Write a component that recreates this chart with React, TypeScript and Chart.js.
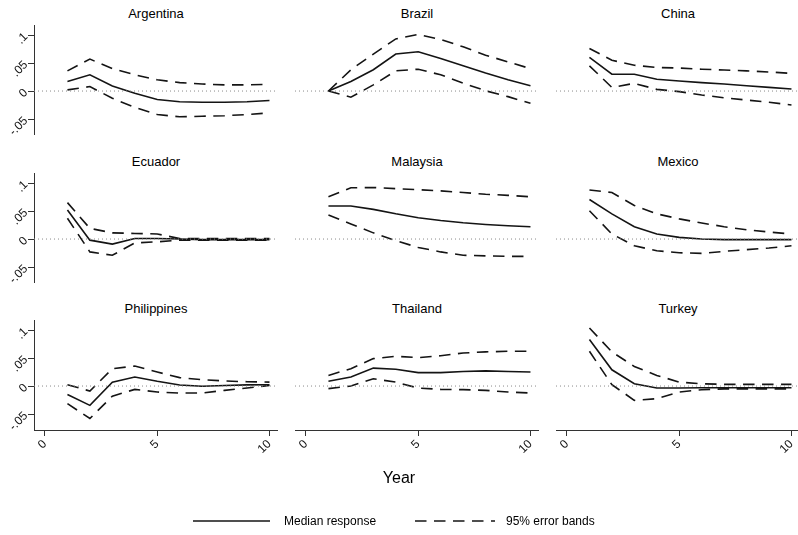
import React, { useEffect, useRef } from "react";
import { Chart, registerables } from "chart.js";

Chart.register(...registerables);

// ---------- data ----------
const years = [1, 2, 3, 4, 5, 6, 7, 8, 9, 10];

const xTicks = [0, 5, 10];
const xTickLabels = ["0", "5", "10"];
const yTicks = [-0.05, 0, 0.05, 0.1];
const yTickLabels = ["-.05", "0", ".05", ".1"];

const countries = [
  "Argentina", "Brazil", "China",
  "Ecuador", "Malaysia", "Mexico",
  "Philippines", "Thailand", "Turkey",
];

const argentinaMedian = [0.017, 0.029, 0.009, -0.004, -0.015, -0.019, -0.02, -0.02, -0.019, -0.017];
const argentinaUpper = [0.036, 0.057, 0.04, 0.029, 0.02, 0.015, 0.0125, 0.011, 0.011, 0.012];
const argentinaLower = [0.002, 0.008, -0.013, -0.029, -0.042, -0.046, -0.045, -0.044, -0.042, -0.039];

const brazilMedian = [0.0, 0.017, 0.038, 0.066, 0.07, 0.058, 0.045, 0.032, 0.02, 0.0095];
const brazilUpper = [0.0, 0.038, 0.066, 0.093, 0.101, 0.092, 0.079, 0.064, 0.052, 0.04];
const brazilLower = [0.0, -0.011, 0.011, 0.036, 0.039, 0.029, 0.014, 0.0005, -0.01, -0.022];

const chinaMedian = [0.06, 0.03, 0.03, 0.021, 0.018, 0.015, 0.0125, 0.0095, 0.0065, 0.0036];
const chinaUpper = [0.076, 0.055, 0.046, 0.042, 0.041, 0.039, 0.0375, 0.036, 0.034, 0.0315];
const chinaLower = [0.045, 0.0065, 0.0137, 0.003, -0.001, -0.007, -0.012, -0.016, -0.02, -0.025];

const ecuadorMedian = [0.052, -0.002, -0.009, 0.001, 0.001, 0.0, -0.001, -0.001, -0.001, -0.001];
const ecuadorUpper = [0.065, 0.019, 0.011, 0.01, 0.009, 0.001, 0.001, 0.001, 0.001, 0.001];
const ecuadorLower = [0.037, -0.023, -0.029, -0.007, -0.005, -0.002, -0.002, -0.002, -0.002, -0.002];

const malaysiaMedian = [0.059, 0.059, 0.053, 0.045, 0.038, 0.033, 0.029, 0.026, 0.0237, 0.022];
const malaysiaUpper = [0.0755, 0.0915, 0.092, 0.09, 0.088, 0.086, 0.083, 0.08, 0.078, 0.0755];
const malaysiaLower = [0.043, 0.027, 0.011, -0.003, -0.015, -0.023, -0.029, -0.03, -0.031, -0.031];

const mexicoMedian = [0.0705, 0.045, 0.022, 0.009, 0.003, 0.0, -0.001, -0.001, -0.001, -0.001];
const mexicoUpper = [0.0875, 0.083, 0.06, 0.045, 0.036, 0.0286, 0.022, 0.0166, 0.0125, 0.009];
const mexicoLower = [0.0505, 0.009, -0.012, -0.021, -0.0245, -0.0256, -0.022, -0.019, -0.016, -0.012];

const philippinesMedian = [-0.015, -0.0345, 0.007, 0.016, 0.0084, 0.0018, -0.0005, 0.001, 0.002, 0.0024];
const philippinesUpper = [0.0024, -0.009, 0.031, 0.0357, 0.025, 0.015, 0.0114, 0.009, 0.0077, 0.007];
const philippinesLower = [-0.0315, -0.058, -0.018, -0.006, -0.0107, -0.0125, -0.0125, -0.0077, -0.0036, 0.001];

const thailandMedian = [0.0084, 0.016, 0.032, 0.03, 0.024, 0.024, 0.026, 0.027, 0.026, 0.025];
const thailandUpper = [0.019, 0.031, 0.049, 0.053, 0.0507, 0.054, 0.059, 0.061, 0.062, 0.062];
const thailandLower = [-0.0047, 0.0, 0.013, 0.007, -0.0036, -0.006, -0.0065, -0.0077, -0.0107, -0.0125];

const turkeyMedian = [0.083, 0.029, 0.004, -0.0036, -0.0036, -0.003, -0.003, -0.003, -0.003, -0.003];
const turkeyUpper = [0.1036, 0.061, 0.035, 0.019, 0.007, 0.004, 0.003, 0.003, 0.003, 0.003];
const turkeyLower = [0.062, 0.0024, -0.0255, -0.0225, -0.0107, -0.0065, -0.005, -0.005, -0.005, -0.005];

const medians = [argentinaMedian, brazilMedian, chinaMedian, ecuadorMedian, malaysiaMedian, mexicoMedian, philippinesMedian, thailandMedian, turkeyMedian];
const uppers = [argentinaUpper, brazilUpper, chinaUpper, ecuadorUpper, malaysiaUpper, mexicoUpper, philippinesUpper, thailandUpper, turkeyUpper];
const lowers = [argentinaLower, brazilLower, chinaLower, ecuadorLower, malaysiaLower, mexicoLower, philippinesLower, thailandLower, turkeyLower];

const legendLabels = ["Median response", "95% error bands"];
const xAxisTitle = "Year";

// ---------- layout / style ----------
const FONT = '"Liberation Sans", Arial, Helvetica, sans-serif';
const PLOT_LEFT = [34, 295, 556];
const PLOT_TOP = [25, 173, 320];
const PLOT_W = 244;
const PLOT_H = 110;
const Y_AXIS_W = 34;
const X_AXIS_H = 40;
const X_MIN = -0.49;
const X_MAX = 10.38;
const Y_MAX = 0.1179;
const Y_MIN = Y_MAX - 0.1964;
const DASH = [11.5, 7.5];
const LINE_COLOR = "#141414";
const AXIS_COLOR = "#333333";

Chart.defaults.font.family = FONT;

function toXY(vals: number[]) {
  return years.map((x, i) => ({ x, y: vals[i] }));
}

function Panel({ idx }: { idx: number }) {
  const ref = useRef<HTMLCanvasElement | null>(null);
  const row = Math.floor(idx / 3);
  const col = idx % 3;
  const showY = col === 0;
  const showX = row === 2;
  const left = PLOT_LEFT[col] - (showY ? Y_AXIS_W : 0);
  const top = PLOT_TOP[row];
  const w = PLOT_W + (showY ? Y_AXIS_W : 0);
  const h = PLOT_H + (showX ? X_AXIS_H : 0);

  useEffect(() => {
    if (!ref.current) return;
    const chart = new Chart(ref.current, {
      type: "line",
      data: {
        datasets: [
          {
            data: [{ x: X_MIN, y: 0 }, { x: X_MAX, y: 0 }],
            borderColor: "#8a8a8a",
            borderWidth: 1,
            borderDash: [1, 3],
            pointRadius: 0,
          },
          {
            data: toXY(lowers[idx]),
            borderColor: LINE_COLOR,
            borderWidth: 1.6,
            borderDash: DASH,
            pointRadius: 0,
          },
          {
            data: toXY(uppers[idx]),
            borderColor: LINE_COLOR,
            borderWidth: 1.6,
            borderDash: DASH,
            pointRadius: 0,
          },
          {
            data: toXY(medians[idx]),
            borderColor: LINE_COLOR,
            borderWidth: 1.6,
            pointRadius: 0,
          },
        ],
      },
      options: {
        animation: false,
        responsive: false,
        events: [],
        layout: { padding: 0 },
        plugins: {
          legend: { display: false },
          tooltip: { enabled: false },
          title: { display: false },
        },
        scales: {
          x: {
            type: "linear",
            min: X_MIN,
            max: X_MAX,
            display: showX,
            afterBuildTicks: (s: any) => {
              s.ticks = xTicks.map((v) => ({ value: v }));
            },
            afterFit: (s: any) => {
              if (!showX) return;
              s.height = X_AXIS_H;
              s.paddingLeft = 0;
              s.paddingRight = 0;
            },
            grid: {
              drawOnChartArea: false,
              drawTicks: true,
              tickLength: 6,
              tickColor: AXIS_COLOR,
              tickWidth: 1,
            },
            border: { display: true, color: AXIS_COLOR, width: 1 },
            ticks: {
              autoSkip: false,
              minRotation: 45,
              maxRotation: 45,
              padding: 1,
              color: "#111",
              font: { size: 12, family: FONT },
              callback: (_v: any, i: number) => xTickLabels[i],
            },
          },
          y: {
            type: "linear",
            min: Y_MIN,
            max: Y_MAX,
            display: showY,
            afterBuildTicks: (s: any) => {
              s.ticks = yTicks.map((v) => ({ value: v }));
            },
            afterFit: (s: any) => {
              if (!showY) return;
              s.width = Y_AXIS_W;
              s.paddingTop = 0;
              s.paddingBottom = 0;
            },
            grid: {
              drawOnChartArea: false,
              drawTicks: true,
              tickLength: 6,
              tickColor: AXIS_COLOR,
              tickWidth: 1,
            },
            border: { display: true, color: AXIS_COLOR, width: 1 },
            ticks: {
              autoSkip: false,
              minRotation: 45,
              maxRotation: 45,
              padding: 2,
              color: "#111",
              font: { size: 12, family: FONT },
              callback: (_v: any, i: number) => yTickLabels[i],
            },
          },
        },
      } as any,
    });
    return () => chart.destroy();
  }, [idx]);

  return (
    <>
      <div
        style={{
          position: "absolute",
          left: PLOT_LEFT[col],
          width: PLOT_W,
          top: PLOT_TOP[row] - 11 - 8,
          height: 16,
          lineHeight: "16px",
          textAlign: "center",
          fontFamily: FONT,
          fontSize: 13,
          color: "#000",
        }}
      >
        {countries[idx]}
      </div>
      <canvas
        ref={ref}
        width={w}
        height={h}
        style={{ position: "absolute", left, top, width: w, height: h }}
      />
    </>
  );
}

export default function App() {
  return (
    <div
      style={{
        position: "fixed",
        left: 0,
        top: 0,
        width: 798,
        height: 535,
        overflow: "hidden",
        background: "#fff",
      }}
    >
      {countries.map((_, i) => (
        <Panel key={i} idx={i} />
      ))}
      <div
        style={{
          position: "absolute",
          left: 299,
          width: 200,
          top: 468,
          height: 20,
          lineHeight: "20px",
          textAlign: "center",
          fontFamily: FONT,
          fontSize: 16,
          color: "#000",
        }}
      >
        {xAxisTitle}
      </div>
      <svg
        width={798}
        height={535}
        style={{ position: "absolute", left: 0, top: 0, pointerEvents: "none" }}
      >
        <line x1={193} y1={521} x2={270} y2={521} stroke={LINE_COLOR} strokeWidth={1.6} />
        <line
          x1={415}
          y1={521}
          x2={495}
          y2={521}
          stroke={LINE_COLOR}
          strokeWidth={1.6}
          strokeDasharray={DASH.join(" ")}
        />
      </svg>
      <div
        style={{
          position: "absolute",
          left: 284,
          top: 513,
          height: 16,
          lineHeight: "16px",
          fontFamily: FONT,
          fontSize: 12,
          color: "#000",
          whiteSpace: "nowrap",
        }}
      >
        {legendLabels[0]}
      </div>
      <div
        style={{
          position: "absolute",
          left: 506,
          top: 513,
          height: 16,
          lineHeight: "16px",
          fontFamily: FONT,
          fontSize: 12,
          color: "#000",
          whiteSpace: "nowrap",
        }}
      >
        {legendLabels[1]}
      </div>
    </div>
  );
}
